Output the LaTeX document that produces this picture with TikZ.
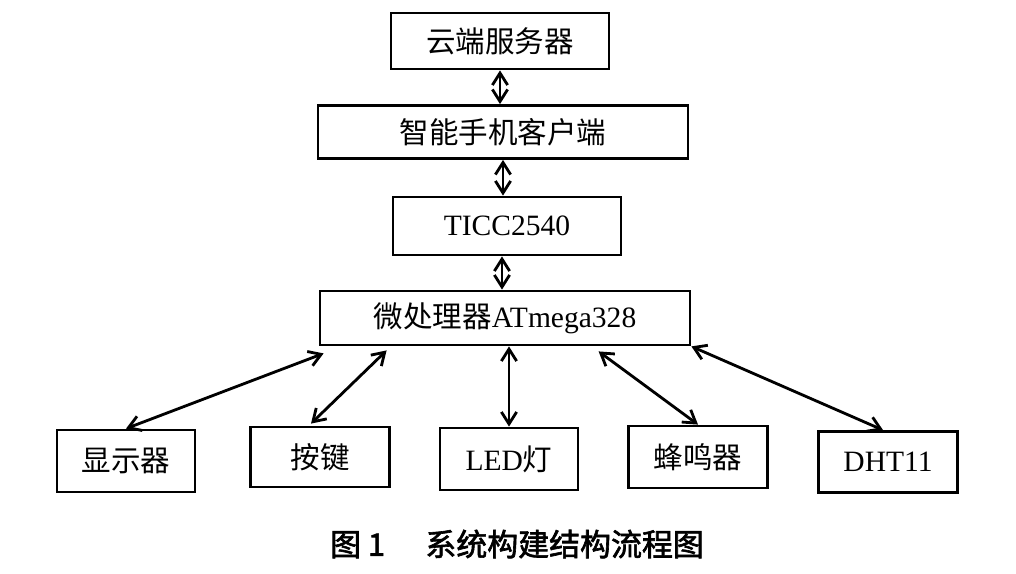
\documentclass[tikz,border=0pt]{standalone}
\usepackage{fontspec}
\setmainfont{Liberation Serif}
\newfontfamily\cjk{Noto Sans CJK SC}
\newfontfamily\capfont{Noto Sans CJK SC}[FakeBold=2]
\usetikzlibrary{arrows.meta,calc}
\begin{document}
\begin{tikzpicture}[x=0.025cm,y=-0.025cm,
  box/.style={draw,line width=2pt,inner sep=0pt,font=\fontsize{21}{24}\selectfont},
  link/.style={line width=2pt,{Straight Barb[length=3mm,width=3.8mm]}-{Straight Barb[length=3mm,width=3.8mm]}}]
  \useasboundingbox (0,0) rectangle (1016,573);
  \node[box,minimum width=218*0.025cm,minimum height=56*0.025cm] (cloud) at (500,41) {\cjk 云端服务器};
  \node[box,minimum width=370*0.025cm,minimum height=53*0.025cm] (phone) at (503,132) {\cjk 智能手机客户端};
  \node[box,minimum width=228*0.025cm,minimum height=58*0.025cm] (ti) at (507,226) {TICC2540};
  \node[box,minimum width=370*0.025cm,minimum height=54*0.025cm] (mcu) at (505,318) {{\cjk 微处理器}ATmega328};
  \node[box,minimum width=138*0.025cm,minimum height=62*0.025cm] (disp) at (126,461) {\cjk 显示器};
  \node[box,minimum width=139*0.025cm,minimum height=60*0.025cm] (key) at (320,457) {\cjk 按键};
  \node[box,minimum width=138*0.025cm,minimum height=62*0.025cm] (led) at (509,459) {LED{\cjk 灯}};
  \node[box,minimum width=139*0.025cm,minimum height=62*0.025cm] (buzz) at (698,457) {\cjk 蜂鸣器};
  \node[box,minimum width=139*0.025cm,minimum height=61*0.025cm] (dht) at (888,462) {DHT11};
  \draw[link] (cloud.south) -- (cloud.south |- phone.north);
  \draw[link] (phone.south) -- (phone.south |- ti.north);
  \draw[link] ($(ti.south)+(-5,0)$) -- ($(ti.south |- mcu.north)+(-5,0)$);
  \draw[link] ($(mcu.south west)+(5,7)$) -- (disp.north);
  \draw[link] ($(mcu.south west)+(68,4)$) -- ($(key.north)+(-9,-2)$);
  \draw[link] (mcu.south -| led) -- (led.north);
  \draw[link] ($(mcu.south west)+(280,5)$) -- (buzz.north);
  \draw[link] (mcu.south east) -- ($(dht.north)+(-5,0)$);
  \node[font=\fontsize{22}{26}\selectfont] (cap) at (517,544) {\capfont 图 1\hspace{1.3em}系统构建结构流程图};
\end{tikzpicture}
\end{document}
